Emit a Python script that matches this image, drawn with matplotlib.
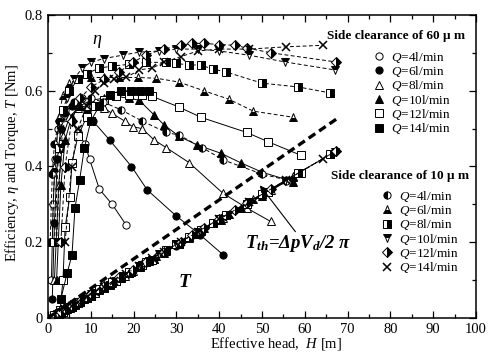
import matplotlib
matplotlib.use('Agg')
import matplotlib.pyplot as plt
from matplotlib.ticker import MultipleLocator, FuncFormatter
from matplotlib.lines import Line2D

plt.rcParams['font.family'] = 'Liberation Serif'
plt.rcParams['mathtext.fontset'] = 'custom'
plt.rcParams['mathtext.rm'] = 'Liberation Serif'
plt.rcParams['mathtext.it'] = 'Liberation Serif:italic'
plt.rcParams['mathtext.bf'] = 'Liberation Serif:bold:italic'

# ---- side clearance 60 um (solid lines) ----
h60_q4 = [0.8, 1.2, 1.7, 2.3, 3.0, 4.0, 5.5, 7.0, 8.6, 9.7, 12.0, 15.0, 18.3]
e60_q4 = [0.10, 0.30, 0.42, 0.50, 0.53, 0.535, 0.52, 0.49, 0.46, 0.42, 0.34, 0.30, 0.245]
t60_q4 = [0.0, 0.001, 0.005, 0.009, 0.013, 0.020, 0.030, 0.040, 0.050, 0.057, 0.073, 0.092, 0.114]

h60_q6 = [1.0, 1.5, 2.2, 3.0, 4.0, 5.5, 7.0, 9.0, 10.5, 14.4, 19.5, 23.2, 29.9, 35.5, 41.0]
e60_q6 = [0.05, 0.25, 0.42, 0.50, 0.54, 0.56, 0.56, 0.545, 0.52, 0.47, 0.40, 0.338, 0.27, 0.22, 0.166]
t60_q6 = [0.0, 0.003, 0.008, 0.013, 0.020, 0.030, 0.040, 0.053, 0.063, 0.088, 0.122, 0.147, 0.191, 0.228, 0.264]

h60_q8 = [1.5, 2.5, 3.5, 5.0, 7.0, 9.0, 11.0, 13.0, 15.0, 17.9, 19.8, 22.0, 24.8, 27.6, 33.0, 40.8, 46.5, 52.0]
e60_q8 = [0.10, 0.35, 0.48, 0.53, 0.555, 0.56, 0.56, 0.555, 0.54, 0.52, 0.505, 0.50, 0.47, 0.45, 0.41, 0.33, 0.29, 0.255]
t60_q8 = [0.003, 0.010, 0.017, 0.026, 0.040, 0.053, 0.066, 0.079, 0.092, 0.112, 0.124, 0.139, 0.157, 0.176, 0.211, 0.263, 0.300, 0.337]

h60_q10 = [2.0, 3.0, 4.0, 5.5, 7.5, 10.0, 13.0, 16.0, 19.0, 21.3, 24.8, 27.1, 30.6, 34.8, 40.4, 45.0, 50.0, 57.3]
e60_q10 = [0.10, 0.35, 0.47, 0.53, 0.56, 0.575, 0.58, 0.585, 0.58, 0.575, 0.536, 0.51, 0.48, 0.457, 0.435, 0.41, 0.385, 0.36]
t60_q10 = [0.007, 0.013, 0.020, 0.030, 0.043, 0.059, 0.079, 0.099, 0.119, 0.134, 0.157, 0.172, 0.195, 0.223, 0.260, 0.290, 0.323, 0.372]

h60_q12 = [2.8, 3.5, 4.0, 5.1, 5.6, 7.0, 9.0, 11.0, 13.0, 16.0, 19.0, 22.0, 24.4, 30.6, 35.7, 46.4, 51.5, 59.0]
e60_q12 = [0.02, 0.10, 0.24, 0.32, 0.41, 0.48, 0.53, 0.56, 0.575, 0.585, 0.59, 0.59, 0.585, 0.557, 0.53, 0.49, 0.465, 0.43]
t60_q12 = [0.012, 0.017, 0.020, 0.027, 0.030, 0.040, 0.053, 0.066, 0.079, 0.099, 0.119, 0.139, 0.154, 0.195, 0.229, 0.300, 0.333, 0.383]

h60_q14 = [3.0, 4.5, 5.6, 6.3, 7.4, 8.5, 10.0, 12.0, 14.4, 17.0, 19.5, 21.5, 23.7]
e60_q14 = [0.05, 0.12, 0.166, 0.29, 0.365, 0.45, 0.52, 0.56, 0.59, 0.60, 0.60, 0.60, 0.60]
t60_q14 = [0.013, 0.023, 0.030, 0.035, 0.042, 0.050, 0.059, 0.073, 0.088, 0.106, 0.122, 0.135, 0.150]

# ---- side clearance 10 um (dashed lines) ----
h10_q4 = [0.5, 1.0, 1.5, 2.5, 4.0, 6.0, 8.0, 10.0, 12.9, 17.0, 22.0, 27.6, 30.6, 36.0, 41.0, 50.0, 55.5]
e10_q4 = [0.20, 0.38, 0.46, 0.52, 0.55, 0.57, 0.58, 0.58, 0.57, 0.55, 0.52, 0.49, 0.483, 0.45, 0.417, 0.38, 0.365]
t10_q4 = [0.0, 0.003, 0.007, 0.013, 0.023, 0.036, 0.050, 0.063, 0.082, 0.109, 0.142, 0.179, 0.199, 0.234, 0.267, 0.327, 0.363]

h10_q6 = [1.0, 1.5, 2.5, 3.5, 5.0, 7.0, 10.0, 13.0, 16.7, 21.0, 25.3, 30.6, 36.4, 42.2, 48.0, 57.3]
e10_q6 = [0.20, 0.40, 0.53, 0.59, 0.62, 0.63, 0.635, 0.635, 0.635, 0.635, 0.633, 0.623, 0.60, 0.578, 0.546, 0.53]
t10_q6 = [0.003, 0.007, 0.013, 0.020, 0.030, 0.043, 0.063, 0.083, 0.107, 0.135, 0.164, 0.199, 0.237, 0.275, 0.314, 0.375]

h10_q8 = [1.5, 2.5, 3.5, 5.0, 7.0, 9.0, 12.0, 15.0, 19.0, 23.0, 27.6, 30.0, 33.0, 35.7, 38.5, 41.5, 50.0, 58.5, 66.0]
e10_q8 = [0.20, 0.45, 0.55, 0.60, 0.63, 0.645, 0.66, 0.665, 0.67, 0.675, 0.675, 0.672, 0.668, 0.668, 0.657, 0.65, 0.62, 0.61, 0.594]
t10_q8 = [0.007, 0.013, 0.020, 0.030, 0.043, 0.056, 0.076, 0.096, 0.122, 0.149, 0.179, 0.195, 0.215, 0.232, 0.251, 0.271, 0.327, 0.383, 0.432]

h10_q10 = [2.0, 3.0, 4.5, 6.0, 8.0, 10.0, 13.0, 17.5, 21.3, 26.0, 30.0, 35.0, 40.0, 46.9, 55.4, 67.0]
e10_q10 = [0.20, 0.45, 0.58, 0.63, 0.66, 0.675, 0.685, 0.694, 0.702, 0.705, 0.71, 0.71, 0.705, 0.694, 0.676, 0.655]
t10_q10 = [0.010, 0.017, 0.026, 0.036, 0.050, 0.063, 0.083, 0.112, 0.137, 0.168, 0.195, 0.228, 0.261, 0.306, 0.362, 0.439]

h10_q12 = [3.0, 4.0, 5.5, 7.5, 10.0, 13.2, 16.7, 19.8, 23.0, 27.0, 31.0, 33.7, 36.4, 40.0, 43.8, 46.4, 52.2, 67.3]
e10_q12 = [0.20, 0.40, 0.52, 0.58, 0.61, 0.63, 0.65, 0.675, 0.695, 0.71, 0.72, 0.725, 0.725, 0.722, 0.72, 0.713, 0.70, 0.676]
t10_q12 = [0.017, 0.023, 0.033, 0.046, 0.063, 0.084, 0.107, 0.127, 0.149, 0.175, 0.201, 0.219, 0.237, 0.261, 0.286, 0.303, 0.341, 0.441]

h10_q14 = [4.0, 5.5, 7.0, 9.0, 11.0, 13.0, 15.5, 18.3, 21.3, 24.4, 27.0, 31.0, 35.0, 40.0, 47.0, 55.7, 64.3]
e10_q14 = [0.20, 0.40, 0.50, 0.56, 0.60, 0.62, 0.63, 0.635, 0.655, 0.66, 0.675, 0.69, 0.705, 0.71, 0.71, 0.716, 0.72]
t10_q14 = [0.023, 0.033, 0.043, 0.056, 0.069, 0.083, 0.099, 0.117, 0.137, 0.158, 0.175, 0.201, 0.228, 0.261, 0.307, 0.364, 0.421]

# theoretical torque line
h_th = [0.0, 68.0]
t_th = [0.0, 0.53]

flows = ['4', '6', '8', '10', '12', '14']

# marker styles
sty60 = [dict(marker='o', mfc='white'), dict(marker='o', mfc='black'),
         dict(marker='^', mfc='white'), dict(marker='^', mfc='black'),
         dict(marker='s', mfc='white'), dict(marker='s', mfc='black')]
sty10 = [dict(marker='o', mfc='black', fillstyle='left', markerfacecoloralt='white'),
         dict(marker='^', mfc='black', fillstyle='bottom', markerfacecoloralt='white'),
         dict(marker='s', mfc='black', fillstyle='right', markerfacecoloralt='white'),
         dict(marker='v', mfc='black', fillstyle='top', markerfacecoloralt='white'),
         dict(marker='D', mfc='black', fillstyle='right', markerfacecoloralt='white', ms=4.8),
         dict(marker='x', mew=1.1, ms=6)]

set60 = [(h60_q4, e60_q4, t60_q4), (h60_q6, e60_q6, t60_q6), (h60_q8, e60_q8, t60_q8),
         (h60_q10, e60_q10, t60_q10), (h60_q12, e60_q12, t60_q12), (h60_q14, e60_q14, t60_q14)]
set10 = [(h10_q4, e10_q4, t10_q4), (h10_q6, e10_q6, t10_q6), (h10_q8, e10_q8, t10_q8),
         (h10_q10, e10_q10, t10_q10), (h10_q12, e10_q12, t10_q12), (h10_q14, e10_q14, t10_q14)]

fig = plt.figure(figsize=(4.88, 3.59), dpi=100)
ax = fig.add_axes([48/488, 1-318/359, (476-48)/488, (318-15)/359])

base = dict(color='black', mec='black', ms=5.2, mew=0.7, lw=0.7)
h60, h10 = [], []
for (h, e, t), s in zip(set60, sty60):
    kw = {**base, **s}
    ax.plot(h, e, ls='-', **kw)
    ax.plot(h, t, ls='-', **kw)
    h60.append(Line2D([], [], ls='none', **kw))
for (h, e, t), s in zip(set10, sty10):
    kw = {**base, **s}
    ax.plot(h, e, ls=(0, (4, 2.5)), **kw)
    ax.plot(h, t, ls=(0, (4, 2, 1, 2)), **kw)
    h10.append(Line2D([], [], ls='none', **kw))

ax.plot(h_th, t_th, color='black', lw=2.4, ls=(0, (2.4, 1.4)), zorder=5)

ax.set_xlim(0, 100)
ax.set_ylim(0, 0.8)
ax.xaxis.set_major_locator(MultipleLocator(10))
ax.xaxis.set_minor_locator(MultipleLocator(5))
ax.yaxis.set_major_locator(MultipleLocator(0.2))
ax.yaxis.set_minor_locator(MultipleLocator(0.1))
ax.yaxis.set_major_formatter(FuncFormatter(lambda v, p: '0' if v == 0 else f'{v:.1f}'))
ax.tick_params(which='both', direction='in', top=True, right=True, labelsize=10.5, width=0.9)
ax.tick_params(which='major', length=5)
ax.tick_params(which='minor', length=3)
for sp in ax.spines.values():
    sp.set_linewidth(1.1)

fig.text(276/488, 1-344/359, 'Effective head,  $H$ [m]', ha='center', va='center', fontsize=10.5)
fig.text(12/488, 1-163/359, r'Efficiency, $\eta$ and Torque, $T$ [Nm]', ha='center', va='center',
         rotation=90, fontsize=10.5)

ax.text(11.4, 0.73, r'$\eta$', fontsize=13, ha='center', va='center')
ax.text(32, 0.095, 'T', fontsize=14, fontweight='bold', style='italic', ha='center', va='center')
ax.text(46.0, 0.197, r'$\mathbf{T_{th}}$=Δ$\mathbf{pV_d}$/2 π', fontsize=13.5,
        fontweight='bold', style='italic', ha='left', va='center')
ax.annotate('', xy=(49.1, 0.356), xytext=(58.2, 0.222),
            arrowprops=dict(arrowstyle='-|>', lw=0.8, color='black', mutation_scale=10))

fig.text(396/488, 1-36/359, 'Side clearance of 60 μ m', fontsize=9.5, fontweight='bold',
         ha='center', va='center')
fig.text(400/488, 1-176/359, 'Side clearance of 10 μ m', fontsize=9.5, fontweight='bold',
         ha='center', va='center')

labels = [f'$Q$={q}l/min' for q in flows]
leg1 = ax.legend(h60, labels, loc='upper left', bbox_to_anchor=(365/488, 1-43/359),
                 bbox_transform=fig.transFigure, frameon=False, fontsize=9.5, borderpad=0,
                 handlelength=1.05, handletextpad=0.45, labelspacing=-0.05)
ax.add_artist(leg1)
ax.legend(h10, labels, loc='upper left', bbox_to_anchor=(373/488, 1-182/359),
          bbox_transform=fig.transFigure, frameon=False, fontsize=9.5, borderpad=0,
          handlelength=1.05, handletextpad=0.45, labelspacing=-0.05)

fig.savefig('out.png', dpi=100)
